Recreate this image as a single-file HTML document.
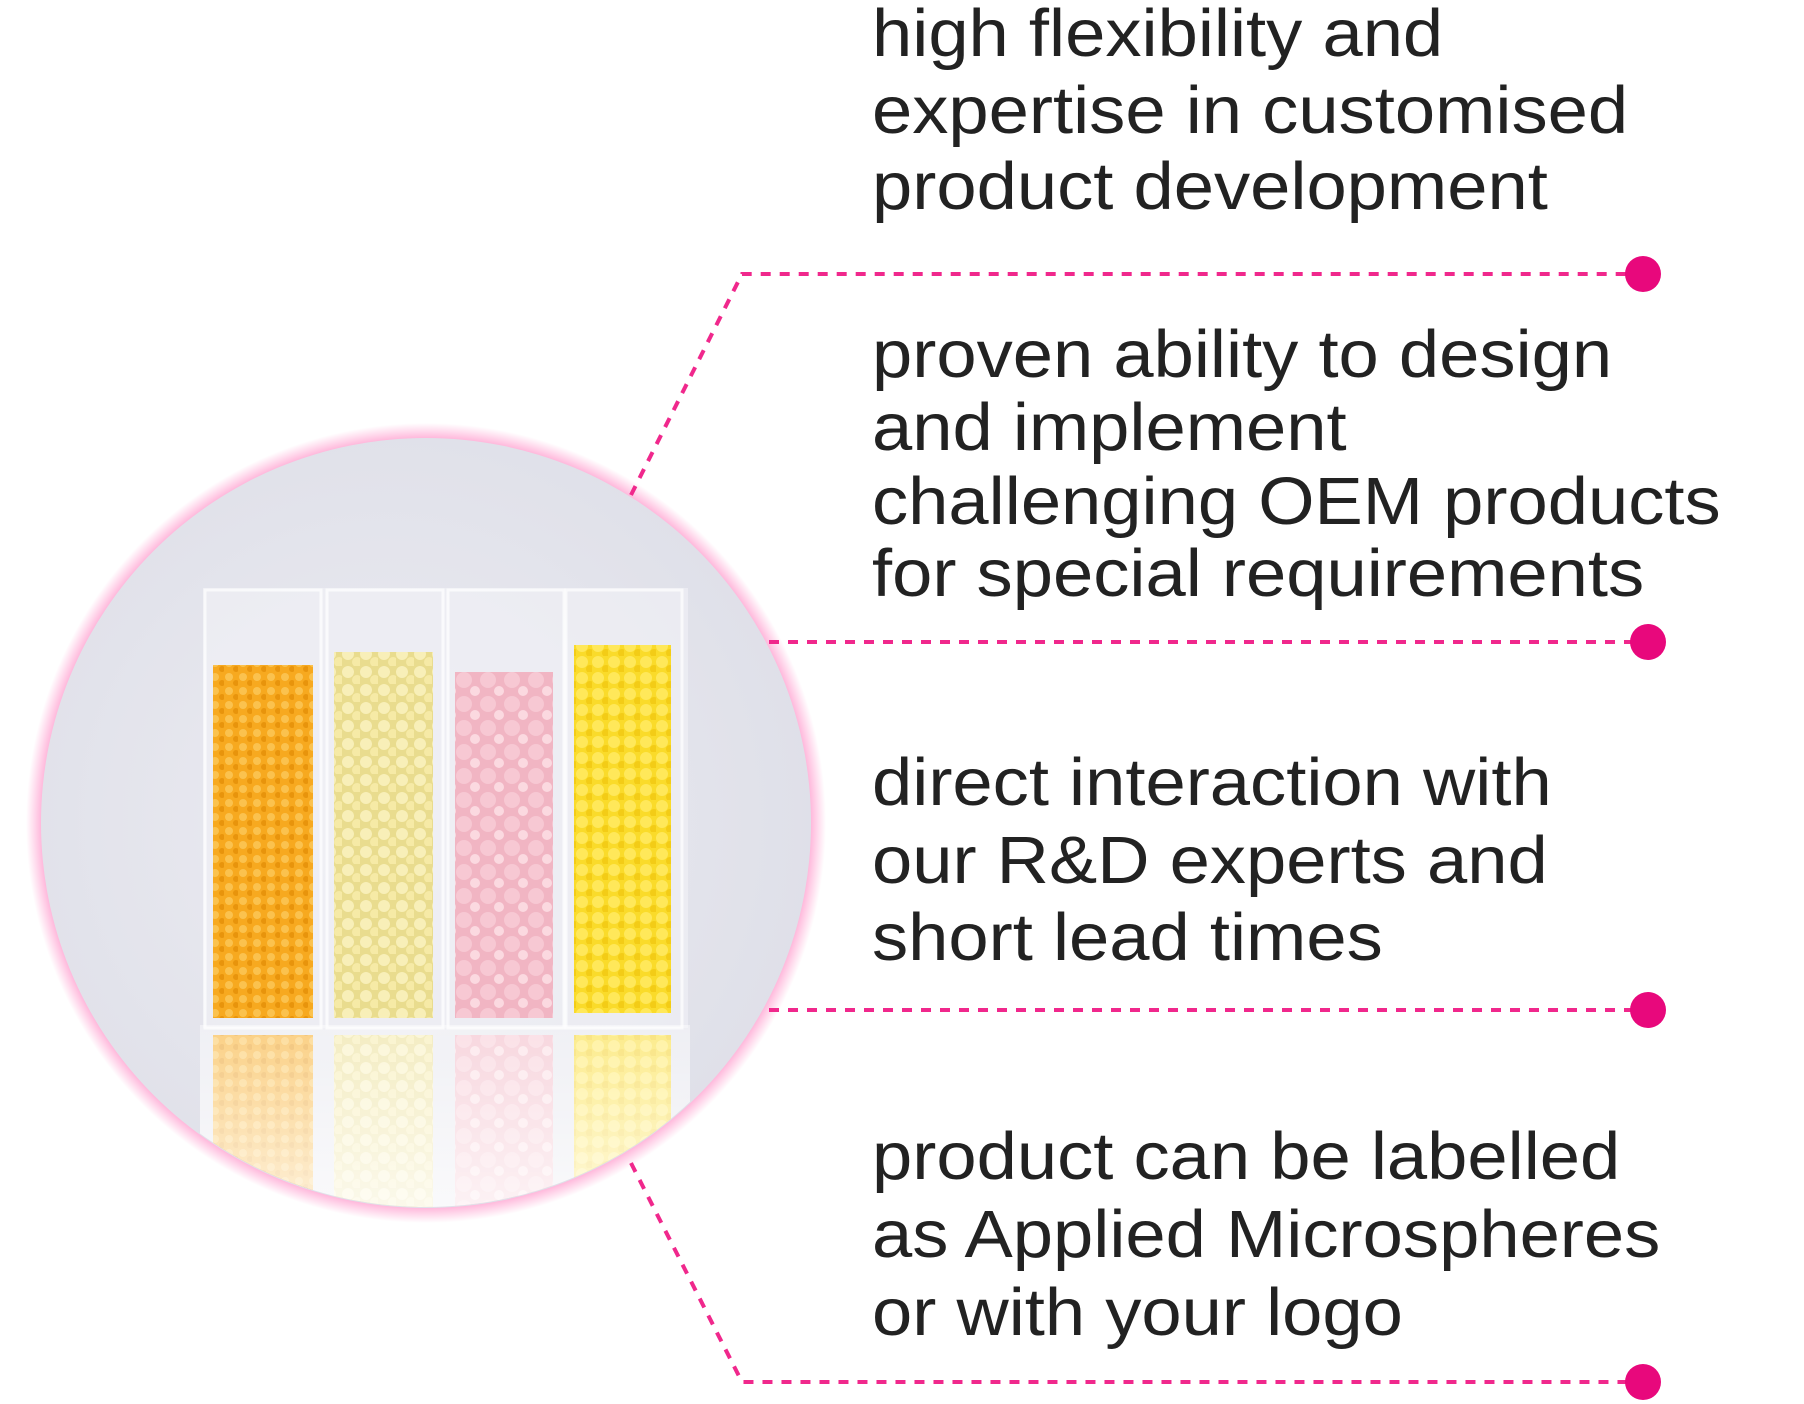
<!DOCTYPE html>
<html><head><meta charset="utf-8"><style>
html,body{margin:0;padding:0;background:#fff;}
body{width:1804px;height:1404px;position:relative;overflow:hidden;font-family:"Liberation Sans",sans-serif;}
.t{position:absolute;left:872px;font-size:67px;line-height:78px;height:78px;color:#222;white-space:nowrap;transform:scaleX(1.08);transform-origin:0 0;}
svg{position:absolute;left:0;top:0;}
</style></head><body>
<svg width="1804" height="1404" viewBox="0 0 1804 1404">
<defs>
<radialGradient id="glow" cx="50%" cy="50%" r="50%">
<stop offset="0.9" stop-color="#ff3399" stop-opacity="1"/>
<stop offset="1" stop-color="#ff4da6" stop-opacity="0"/>
</radialGradient>
<radialGradient id="bg" cx="45%" cy="50%" r="60%">
<stop offset="0" stop-color="#ececf2"/>
<stop offset="1" stop-color="#dedfe8"/>
</radialGradient>
<clipPath id="cc"><circle cx="426" cy="823" r="384"/></clipPath>
<pattern id="p1" width="14" height="14" patternUnits="userSpaceOnUse"><rect width="14" height="14" fill="#f7a91f"/><circle cx="5" cy="5" r="4" fill="#fbc24e"/><circle cx="12" cy="11" r="3" fill="#e8940c"/></pattern>
<pattern id="p2" width="18" height="18" patternUnits="userSpaceOnUse"><rect width="18" height="18" fill="#e9dc8e"/><circle cx="6" cy="6" r="6" fill="#f8efb8"/><circle cx="15" cy="14" r="5" fill="#f6eaa6"/></pattern>
<pattern id="p3" width="24" height="24" patternUnits="userSpaceOnUse"><rect width="24" height="24" fill="#f1b5c3"/><circle cx="8" cy="8" r="8" fill="#f7c8d3"/><circle cx="19" cy="19" r="5" fill="#fbd9e0"/></pattern>
<pattern id="p4" width="16" height="16" patternUnits="userSpaceOnUse"><rect width="16" height="16" fill="#fadb2a"/><circle cx="6" cy="6" r="6" fill="#ffe85a"/><circle cx="14" cy="13" r="4" fill="#f3cc16"/></pattern>
<linearGradient id="fade" x1="0" y1="0" x2="0" y2="1"><stop offset="0" stop-color="#fff" stop-opacity="0.45"/><stop offset="1" stop-color="#fff" stop-opacity="0.9"/></linearGradient>
</defs>
<circle cx="426" cy="823" r="400" fill="url(#glow)"/>
<circle cx="426" cy="823" r="385" fill="url(#bg)"/>
<g clip-path="url(#cc)">
<rect x="203" y="588" width="485" height="440" fill="#f2f2f6" opacity="0.6"/>
<rect x="213" y="665" width="100" height="353" fill="url(#p1)"/>
<rect x="334" y="652" width="99" height="366" fill="url(#p2)"/>
<rect x="455" y="672" width="98" height="346" fill="url(#p3)"/>
<rect x="574" y="645" width="97" height="368" fill="url(#p4)"/>
<rect x="213" y="1035" width="100" height="200" fill="url(#p1)"/>
<rect x="334" y="1035" width="99" height="200" fill="url(#p2)"/>
<rect x="455" y="1035" width="98" height="200" fill="url(#p3)"/>
<rect x="574" y="1035" width="97" height="200" fill="url(#p4)"/>
<rect x="200" y="1025" width="490" height="220" fill="url(#fade)"/>
<g fill="none" stroke="#fff" stroke-opacity="0.7" stroke-width="3">
<rect x="205" y="590" width="116" height="438"/><rect x="327" y="590" width="116" height="438"/><rect x="448" y="590" width="116" height="438"/><rect x="566" y="590" width="116" height="438"/>
</g>
</g>
<g stroke="#f0288c" stroke-width="4" fill="none" stroke-dasharray="10 9">
<polyline points="631,495 742,274 1635,274"/>
<line x1="769" y1="642" x2="1640" y2="642"/>
<line x1="769" y1="1010" x2="1640" y2="1010"/>
<polyline points="631,1163 742,1382 1635,1382"/>
</g>
<g fill="#e8087c">
<circle cx="1643" cy="274" r="18"/><circle cx="1648" cy="642" r="18"/><circle cx="1648" cy="1010" r="18"/><circle cx="1643" cy="1382" r="18"/>
</g>
</svg>
<div class="t" style="top:-5px">high flexibility and</div>
<div class="t" style="top:72px">expertise in customised</div>
<div class="t" style="top:148px">product development</div>
<div class="t" style="top:316px">proven ability to design</div>
<div class="t" style="top:389px">and implement</div>
<div class="t" style="top:463px">challenging OEM products</div>
<div class="t" style="top:535px">for special requirements</div>
<div class="t" style="top:744px">direct interaction with</div>
<div class="t" style="top:822px">our R&amp;D experts and</div>
<div class="t" style="top:899px">short lead times</div>
<div class="t" style="top:1118px">product can be labelled</div>
<div class="t" style="top:1196px">as Applied Microspheres</div>
<div class="t" style="top:1274px">or with your logo</div>
</body></html>
